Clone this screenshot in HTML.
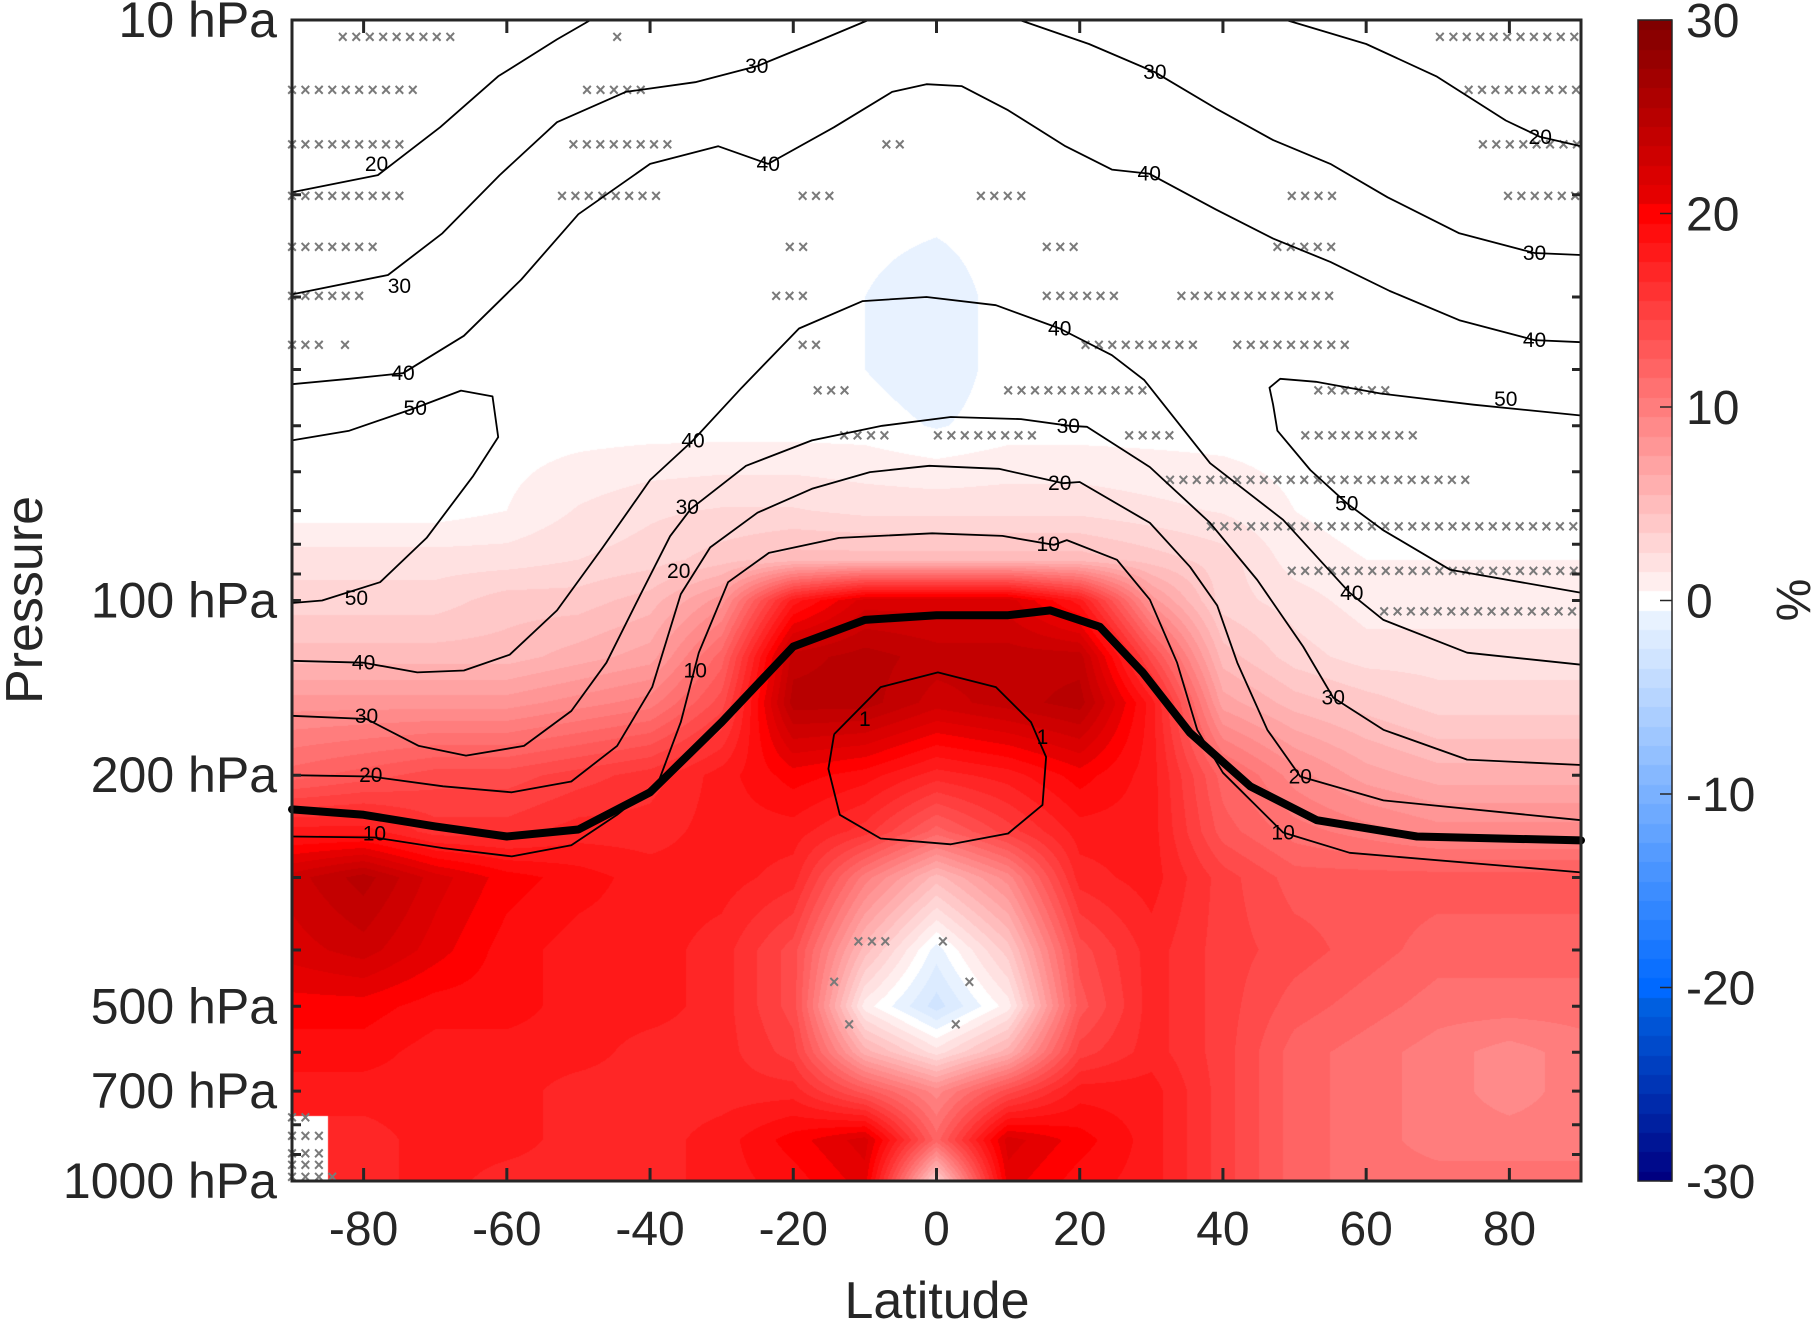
<!DOCTYPE html>
<html><head><meta charset="utf-8">
<style>
html,body{margin:0;padding:0;background:#fff;}
#wrap{position:relative;width:1816px;height:1328px;overflow:hidden;font-family:"Liberation Sans",sans-serif;}
canvas{position:absolute;left:0;top:0;}
svg{position:absolute;left:0;top:0;}
</style></head>
<body>
<div id="wrap">
<canvas id="field" width="1816" height="1328"></canvas>
<svg id="svg" width="1816" height="1328"></svg>
</div>
<script>
// ---------- data ----------
const lats = [-90,-80,-70,-60,-50,-40,-30,-20,-10,0,10,20,30,40,50,60,70,80,90];
const levels = [10,20,30,40,50,70,85,100,125,150,200,250,300,400,500,600,700,850,1000];
const N = NaN;
const fieldRows = [
[0,0,0,0,0,0,0,0,0,0,0,0,0,0,0,0,0,0,0],
[0,0,0,0,0,0,0,0,0,0,0,0,0,0,0,0,0,0,0],
[0,0,0,0,0,0,0,0,-0.5,-1.2,0,0,0,0,0,0,0,0,0],
[0,0,0,0,0,0,0,0,-0.5,-1.2,0,0,0,0,0,0,0,0,0],
[0,0,0,0,0,0,0,0,0,-0.6,0,0,0,0,0,0,0,0,0],
[0,0,0,0.5,1.6,2.3,2.6,2.6,2.2,2.2,2.2,2.2,1.8,1.4,0.5,0,0,0,0],
[2,2,2,2,2.5,3,4,5,5,5,5,5,4,3,1,0.5,0.5,0.5,0.5],
[3,3,3,4,4,5,8,18,22,22,22,18,8,3,2,1,1,1,1],
[5,5,5,5,6,7,12,24,25,24,24,24,14,5,3,2,2,2,2],
[8,8,8,8,9,10,14,25,25,23,24,25,18,7,5,4,3,3,3],
[12,13,14,14,15,16,18,20,19,17,18,20,18,12,9,7,6,6,6],
[18,18,16,16,17,17,18,18,16,12,15,18,18,13,11,10,9,9,9],
[23,25,22,20,19,18,18,17,10,5,9,17,18,15,13,13,13,13,13],
[22,23,21,19,18,18,17,14,5,-1,4,14,17,15,14,13,12,12,12],
[20,20,19,19,18,18,17,14,1,-3,1,13,17,15,13,12,11,11,11],
[19,19,18,18,18,17,17,15,6,2,6,15,17,15,12,11,10,9,10],
[18,18,18,18,17,17,17,17,13,9,14,18,18,15,12,11,10,9,10],
[N,17,18,18,17,17,18,20,22,12,22,20,18,15,12,11,10,10,10],
[N,17,18,17,17,17,18,19,21,3,21,19,18,15,12,11,11,11,11]
];
// contour lines: [lat,p] pairs
const contour20a = [[-90,19.8],[-78,18.5],[-69.3,15.3],[-61.2,12.5],[-53,10.8],[-48.3,10]];
const contour30a = [[-90,29.7],[-76.6,27.5],[-69,23.3],[-61,18.5],[-53,15],[-43.4,13.3],[-33.7,12.8],[-25,12],[-17.5,11],[-9.5,10]];
const contour30b = [[11.6,10],[21.3,11],[30.5,12.3],[39,14.2],[47,16.1],[55,17.7],[63,20.2],[73,23.3],[83.5,25.2],[90,25.4]];
const contour20b = [[48.8,10],[60,11],[69.8,12.5],[79.5,14.9],[84.3,15.9],[90,16.5]];
const contour40a = [[-90,42.4],[-82,41.5],[-74.5,40.6],[-66,35],[-58,28],[-50,21.6],[-40,17.7],[-30.5,16.5],[-23.5,17.7],[-14.3,15.3],[-6.2,13.3],[-1.4,12.9],[3.5,13],[10,14.3],[18,16.5],[24.5,18.1],[29.7,18.4],[39,21.2],[47,23.8],[55,26.1],[63.3,29.3],[73,32.9],[83.5,35.6],[90,35.9]];
const contour50a = [[-90,53],[-82,51],[-72.8,46.6],[-66.4,43.5],[-62,44.5],[-61.2,52.3],[-64.7,61],[-71.2,78],[-77.7,93],[-85.8,100],[-90,101]];
const contour50b = [[90,48],[75,46],[62,44],[53,42],[48,41.5],[46.5,43],[47,46],[47.6,51],[52.2,59.6],[57.3,68],[62.4,75.7],[71.7,88.5],[90,97]];
const contour40b = [[-90,127],[-80,128],[-72.5,133],[-66,132],[-59.6,124],[-53,104],[-46.6,81],[-40,62],[-34,53],[-27.2,43],[-19.2,34],[-10.3,30.5],[-1.4,30],[8.3,31],[17.2,34],[24.5,37.8],[29,41.7],[38.2,58],[48.4,72.6],[57.7,97],[62.4,108],[74.1,123],[90,129]];
const contour30c = [[-90,158],[-79.6,160],[-72.3,178],[-65.7,185],[-57.6,178],[-51,155],[-46.1,128],[-41.3,97.5],[-37.2,77.5],[-34.3,69.5],[-26.6,58.6],[-17.4,53],[-7.6,50],[2,48.3],[11.8,48.7],[18.6,50],[21,50.2],[29.8,58.9],[38.2,73.5],[44.8,92.2],[51.2,120],[55.4,147],[62.4,167],[74.1,188],[90,192]];
const contour20c = [[-90,200],[-79,201],[-68.9,209],[-59.3,214],[-51,205],[-44.6,178],[-39.7,141],[-35.7,97.5],[-31.6,81],[-25,70.6],[-17.4,64.2],[-9.3,60.1],[-1,58.6],[8.7,59.3],[17.7,62.8],[20,62.5],[29.8,73.5],[35.4,87.5],[39.2,102],[42,128],[46.2,167],[50.8,201],[62.4,221],[90,239]];
const contour10 = [[-90,255],[-78.5,256],[-68.9,267],[-59.3,276],[-51,264],[-44.6,234],[-38.8,205],[-35.7,162],[-33.2,123],[-29.1,93],[-23.4,82.8],[-13.6,78],[-0.6,76.6],[9.2,77.4],[16.4,80.2],[18.2,78.7],[25.2,85.1],[29.8,99.7],[33.6,128],[36.4,167],[40,198],[48.4,251],[57.7,272],[90,294]];
const contour1 = [[-14.3,170],[-7.8,141],[0.2,133],[8.3,141],[13.2,162],[15.3,186],[14.8,225],[10,252],[2,263],[-7.8,257],[-13.5,234],[-15.1,195],[-14.3,170]];
const tropopause = [[-90,229],[-80,234],[-70,245],[-60,255],[-50,248],[-40,214],[-30,162],[-20,120],[-10,108],[0,106],[10,106],[15.9,104],[22.8,111],[28.8,133],[35.4,169],[43.8,209],[53.1,239],[67.1,255],[90,259]];
const contourSet = [contour20a,contour30a,contour30b,contour20b,contour40a,contour50a,contour50b,contour40b,contour30c,contour20c,contour10,contour1];
const labelLat = [-78.2,-75,-74.5,-72.8,-81,-80,-79.6,-79,-78.5,-25.1,-23.5,-34,-34.8,-36,-33.7,17.2,18.4,17.2,15.6,30.5,29.7,84.3,83.5,83.5,79.5,57.3,58,55.4,50.8,48.4,-10,14.8];
const labelP = [17.7,28.7,40.6,46.6,99,128,158,200,252,12,17.7,53,69,89,132,34,50,62.8,80,12.3,18.4,15.9,25.2,35.6,45,68,97,147,201,251,160,172];
const labelText = ["20","30","40","50","50","40","30","20","10","30","40","40","30","20","10","40","30","20","10","30","40","20","30","40","50","50","40","30","20","10","1","1"];
// stippling rows: pressure, [latStart, latEnd] spans
const stipP = [10.7,13.2,16.4,20.1,24.6,29.9,36.3,43.5,52,62,74.6,88.9,104.5,387,454,538,778,836,896,938,984];
const stipSpans = [
[[-82.9,-66.4],[-44.6,-44.6],[70.3,90]],
[[-90,-72.2],[-48.8,-39.9],[74.3,90]],
[[-90,-74.2],[-50.7,-36.1],[-7,-3.8],[76.3,90]],
[[-90,-74.2],[-52.3,-38.1],[-18.7,-13.5],[6.2,12.9],[49.6,56.4],[79.8,90]],
[[-90,-77.9],[-20.5,-17.2],[15.4,20.5],[47.6,56.4]],
[[-90,-79.6],[-22.4,-17.2],[15.4,26.1],[34.2,56.4]],
[[-90,-85.1],[-82.6,-82.6],[-18.7,-15.4],[20.8,35.8],[42,58.5]],
[[-16.6,-11.6],[10,29.8],[53.3,64.1]],
[[-12.9,-5.7],[0.2,14.8],[26.9,33.7],[51.5,67.9]],
[[32.6,75.5]],
[[38.3,90]],
[[49.6,90]],
[[62.5,90]],
[[-10.9,-6.2],[0.9,0.9]],
[[-14.3,-14.3],[4.6,4.6]],
[[-12.2,-12.2],[2.7,2.7]],
[[-90,-87]],[[-90,-86]],[[-90,-86]],[[-90,-85]],[[-90,-84]]
];
const xTicks = [-80,-60,-40,-20,0,20,40,60,80];
const yTickLabels = [10,100,200,500,700,1000];
const yMinor = [10,20,30,40,50,60,70,80,90,100,200,300,400,500,600,700,800,900,1000];
const cbTicks = [30,20,10,0,-10,-20,-30];

// ---------- axes ----------
const L=292,R=1581,T=20,B=1181;
function xOf(lat){return L+(lat+90)/180*(R-L);}
function yOf(p){return T+(Math.log10(p)-1)/2*(B-T);}
function cmap(v){
  v=Math.max(-30,Math.min(30,v));
  const q=Math.round(v);
  let a=Math.abs(q),r,g,b;
  if(a<1){return [255,255,255];}
  if(q<0){ if(a<=20){const t=(a-1)/19;return [Math.round(232*(1-t)),Math.round(242-137*t),255];} const t=(a-20)/10;return [0,Math.round(105*(1-t)),Math.round(235-107*t)]; }
  if(a<=20){const t=(a-1)/19;r=255;g=Math.round(238*(1-t));b=g;}
  else{const t=(a-20)/10;r=Math.round(240-112*t);g=0;b=0;}
  return [r,g,b];
}
// ---------- field ----------
(function(){
  const c=document.getElementById('field'),ctx=c.getContext('2d');
  const W=R-L,H=B-T,img=ctx.createImageData(W,H);
  const lp=levels.map(p=>Math.log10(p));
  for(let j=0;j<H;j++){
    const lg=1+(j+0.5)/H*2;
    let k=0;while(k<lp.length-2&&lp[k+1]<lg)k++;
    const fy=Math.max(0,Math.min(1,(lg-lp[k])/(lp[k+1]-lp[k])));
    for(let i=0;i<W;i++){
      const lat=-90+(i+0.5)/W*180;
      let m=Math.min(lats.length-2,Math.floor((lat+90)/10));
      const fx=(lat-lats[m])/10;
      const a=fieldRows[k][m],b=fieldRows[k][m+1],cc=fieldRows[k+1][m],d=fieldRows[k+1][m+1];
      let col;
      const near=fieldRows[fy<0.5?k:k+1][fx<0.5?m:m+1];
      if(isNaN(near)){col=[255,255,255];}
      else{
        const aa=isNaN(a)?near:a,bb=isNaN(b)?near:b,c2=isNaN(cc)?near:cc,dd=isNaN(d)?near:d;
        const v=(aa*(1-fx)+bb*fx)*(1-fy)+(c2*(1-fx)+dd*fx)*fy;
        col=cmap(v);
      }
      const o=(j*W+i)*4;img.data[o]=col[0];img.data[o+1]=col[1];img.data[o+2]=col[2];img.data[o+3]=255;
    }
  }
  ctx.putImageData(img,L,T);
  const cbx=1638,cbw=34;
  for(let y=T;y<B;y++){
    const v=30-(y-T)/(B-T)*60;const col=cmap(v);
    ctx.fillStyle='rgb('+col.join(',')+')';ctx.fillRect(cbx,y,cbw,1);
  }
})();
// ---------- svg ----------
const svg=document.getElementById('svg');const NS='http://www.w3.org/2000/svg';
function el(tag,attrs,parent){const e=document.createElementNS(NS,tag);for(const k in attrs)e.setAttribute(k,attrs[k]);(parent||svg).appendChild(e);return e;}
function pathOf(pts){return pts.map((q,i)=>(i?'L':'M')+xOf(q[0]).toFixed(1)+' '+yOf(q[1]).toFixed(1)).join(' ');}

const gS=el('g',{});


stipP.forEach((p,ri)=>{
  stipSpans[ri].forEach(sp=>{
    for(let lat=sp[0];lat<=sp[1]+0.01;lat+=1.875){
      const t=el('text',{x:xOf(lat).toFixed(1),y:(yOf(p)+6).toFixed(1),'font-size':'18','fill':'#7a7a7a','text-anchor':'middle','font-weight':'bold'},gS);
      
      
      t.textContent='×';
    }
  });
});
const gC=el('g',{fill:'none',stroke:'#000','stroke-width':'1.8','stroke-linejoin':'round'});


contourSet.forEach(c=>{
  const p=el('path',{d:pathOf(c)},gC);
  
  
});
const tp=el('path',{d:pathOf(tropopause),fill:'none',stroke:'#000','stroke-width':'8','stroke-linejoin':'round','stroke-linecap':'round'});


labelText.forEach((s,i)=>{
  const t=el('text',{x:xOf(labelLat[i]).toFixed(1),y:(yOf(labelP[i])+7).toFixed(1),'font-size':'21','text-anchor':'middle','fill':'#000'});
  
  
  t.textContent=s;
});
const fr=el('rect',{x:L,y:T,width:R-L,height:B-T,fill:'none',stroke:'#262626','stroke-width':'3'});


xTicks.forEach(v=>{
  const x=xOf(v);
  const tk=el('path',{d:'M'+x+' '+B+'V'+(B-13)+'M'+x+' '+T+'V'+(T+13),stroke:'#262626','stroke-width':'3'});
  
  
  const t=el('text',{x:x,y:1245,'font-size':'48','text-anchor':'middle','fill':'#262626'});
  
  
  t.textContent=String(v);
});
yMinor.forEach(p=>{
  const y=yOf(p);
  const tk=el('path',{d:'M'+L+' '+y+'H'+(L+9)+'M'+R+' '+y+'H'+(R-9),stroke:'#262626','stroke-width':'3'});
  
  
});
yTickLabels.forEach(p=>{
  const t=el('text',{x:277,y:(yOf(p)+17).toFixed(1),'font-size':'50','text-anchor':'end','fill':'#262626'});
  
  
  t.textContent=p+' hPa';
});
const xl=el('text',{x:937,y:1318,'font-size':'52','text-anchor':'middle','fill':'#262626'});


xl.textContent='Latitude';
const yl=el('text',{x:0,y:0,'font-size':'52','text-anchor':'middle','fill':'#262626',transform:'translate(42,600) rotate(-90)'});


yl.textContent='Pressure';
const cb=el('rect',{x:1638,y:T,width:34,height:B-T,fill:'none',stroke:'#262626','stroke-width':'1.5'});


cbTicks.forEach(v=>{
  const y=T+(30-v)/60*(B-T);
  const tk=el('path',{d:'M1672 '+y+'H1660',stroke:'#262626','stroke-width':'1.5'});
  
  
  const t=el('text',{x:1686,y:(y+17).toFixed(1),'font-size':'48','fill':'#262626'});
  
  
  t.textContent=String(v);
});
const pc=el('text',{x:0,y:0,'font-size':'48','text-anchor':'middle','fill':'#262626',transform:'translate(1810,600) rotate(-90)'});


pc.textContent='%';
</script>
</body></html>
